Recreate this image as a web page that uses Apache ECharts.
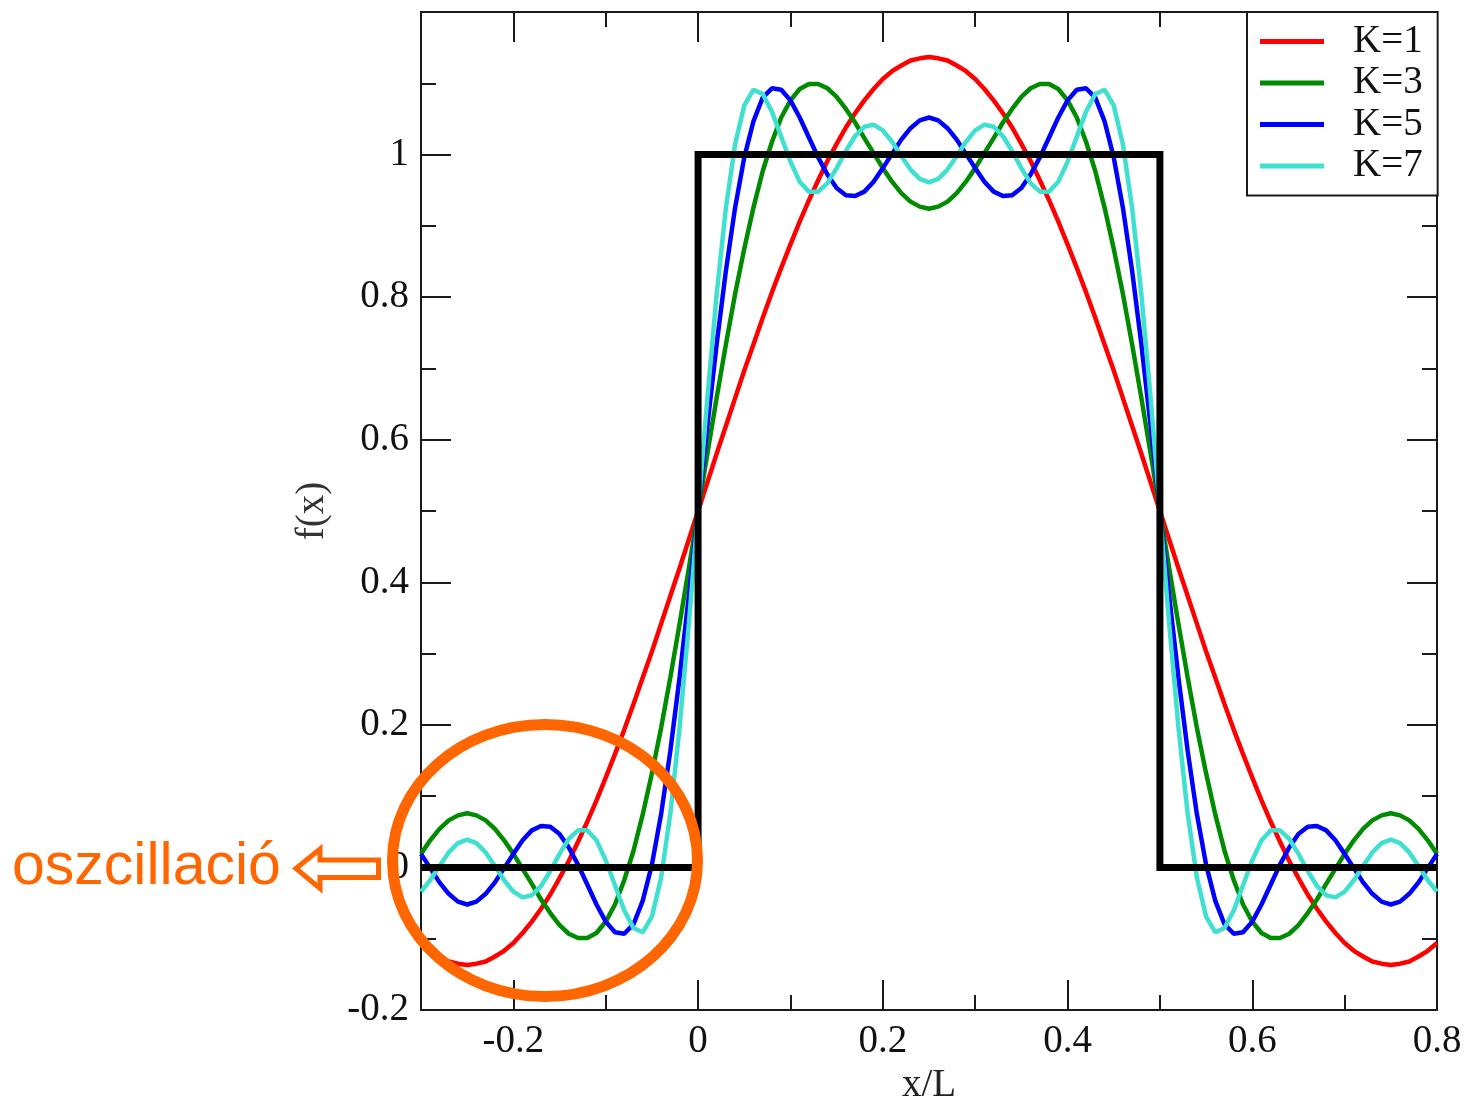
<!DOCTYPE html>
<html>
<head>
<meta charset="utf-8">
<title>f(x) Fourier partial sums</title>
<script src="https://cdn.jsdelivr.net/npm/echarts@6/dist/echarts.min.js"></script>
<style>
  html, body { margin: 0; padding: 0; background: #fff; }
  #chart { width: 1470px; height: 1098px; }
</style>
</head>
<body>
<div id="chart"></div>
<script>
// Sample positions along x/L
const xs = [
  -0.3, -0.29, -0.28, -0.27, -0.26, -0.25, -0.24, -0.23, -0.22, -0.21,
  -0.2, -0.19, -0.18, -0.17, -0.16, -0.15, -0.14, -0.13, -0.12, -0.11,
  -0.1, -0.09, -0.08, -0.07, -0.06, -0.05, -0.04, -0.03, -0.02, -0.01,
  0, 0.01, 0.02, 0.03, 0.04, 0.05, 0.06, 0.07, 0.08, 0.09,
  0.1, 0.11, 0.12, 0.13, 0.14, 0.15, 0.16, 0.17, 0.18, 0.19,
  0.2, 0.21, 0.22, 0.23, 0.24, 0.25, 0.26, 0.27, 0.28, 0.29,
  0.3, 0.31, 0.32, 0.33, 0.34, 0.35, 0.36, 0.37, 0.38, 0.39,
  0.4, 0.41, 0.42, 0.43, 0.44, 0.45, 0.46, 0.47, 0.48, 0.49,
  0.5, 0.51, 0.52, 0.53, 0.54, 0.55, 0.56, 0.57, 0.58, 0.59,
  0.6, 0.61, 0.62, 0.63, 0.64, 0.65, 0.66, 0.67, 0.68, 0.69,
  0.7, 0.71, 0.72, 0.73, 0.74, 0.75, 0.76, 0.77, 0.78, 0.79,
  0.8
];

// Partial sums, K = 1
const yK1 = [
  -0.106, -0.117, -0.125, -0.132, -0.135, -0.137, -0.135, -0.132, -0.125, -0.117,
  -0.106, -0.092, -0.076, -0.058, -0.038, -0.015, 0.009, 0.036, 0.064, 0.094,
  0.126, 0.159, 0.193, 0.229, 0.266, 0.303, 0.342, 0.381, 0.420, 0.460,
  0.500, 0.540, 0.580, 0.619, 0.658, 0.697, 0.734, 0.771, 0.807, 0.841,
  0.874, 0.906, 0.936, 0.964, 0.991, 1.015, 1.038, 1.058, 1.076, 1.092,
  1.106, 1.117, 1.125, 1.132, 1.135, 1.137, 1.135, 1.132, 1.125, 1.117,
  1.106, 1.092, 1.076, 1.058, 1.038, 1.015, 0.991, 0.964, 0.936, 0.906,
  0.874, 0.841, 0.807, 0.771, 0.734, 0.697, 0.658, 0.619, 0.580, 0.540,
  0.500, 0.460, 0.420, 0.381, 0.342, 0.303, 0.266, 0.229, 0.193, 0.159,
  0.126, 0.094, 0.064, 0.036, 0.009, -0.015, -0.038, -0.058, -0.076, -0.092,
  -0.106, -0.117, -0.125, -0.132, -0.135, -0.137, -0.135, -0.132, -0.125, -0.117,
  -0.106
];

// Partial sums, K = 3
const yK3 = [
  0.019, 0.038, 0.054, 0.066, 0.073, 0.076, 0.073, 0.066, 0.054, 0.038,
  0.019, -0.002, -0.023, -0.045, -0.064, -0.081, -0.093, -0.099, -0.099, -0.092,
  -0.076, -0.052, -0.018, 0.023, 0.074, 0.132, 0.196, 0.267, 0.342, 0.420,
  0.500, 0.580, 0.658, 0.733, 0.804, 0.868, 0.926, 0.977, 1.018, 1.052,
  1.076, 1.092, 1.099, 1.099, 1.093, 1.081, 1.064, 1.045, 1.023, 1.002,
  0.981, 0.962, 0.946, 0.934, 0.927, 0.924, 0.927, 0.934, 0.946, 0.962,
  0.981, 1.002, 1.023, 1.045, 1.064, 1.081, 1.093, 1.099, 1.099, 1.092,
  1.076, 1.052, 1.018, 0.977, 0.926, 0.868, 0.804, 0.733, 0.658, 0.580,
  0.500, 0.420, 0.342, 0.267, 0.196, 0.132, 0.074, 0.023, -0.018, -0.052,
  -0.076, -0.092, -0.099, -0.099, -0.093, -0.081, -0.064, -0.045, -0.023, -0.002,
  0.019, 0.038, 0.054, 0.066, 0.073, 0.076, 0.073, 0.066, 0.054, 0.038,
  0.019
];

// Partial sums, K = 5
const yK5 = [
  0.019, -0.001, -0.021, -0.037, -0.048, -0.052, -0.048, -0.037, -0.021, -0.001,
  0.019, 0.038, 0.052, 0.058, 0.057, 0.047, 0.028, 0.004, -0.024, -0.052,
  -0.076, -0.091, -0.093, -0.080, -0.047, 0.004, 0.075, 0.164, 0.267, 0.381,
  0.500, 0.619, 0.733, 0.836, 0.925, 0.996, 1.047, 1.080, 1.093, 1.091,
  1.076, 1.052, 1.024, 0.996, 0.972, 0.953, 0.943, 0.942, 0.948, 0.962,
  0.981, 1.001, 1.021, 1.037, 1.048, 1.052, 1.048, 1.037, 1.021, 1.001,
  0.981, 0.962, 0.948, 0.942, 0.943, 0.953, 0.972, 0.996, 1.024, 1.052,
  1.076, 1.091, 1.093, 1.080, 1.047, 0.996, 0.925, 0.836, 0.733, 0.619,
  0.500, 0.381, 0.267, 0.164, 0.075, 0.004, -0.047, -0.080, -0.093, -0.091,
  -0.076, -0.052, -0.024, 0.004, 0.028, 0.047, 0.057, 0.058, 0.052, 0.038,
  0.019, -0.001, -0.021, -0.037, -0.048, -0.052, -0.048, -0.037, -0.021, -0.001,
  0.019
];

// Partial sums, K = 7
const yK7 = [
  -0.034, -0.018, 0.002, 0.021, 0.034, 0.039, 0.034, 0.021, 0.002, -0.018,
  -0.034, -0.042, -0.039, -0.026, -0.005, 0.019, 0.040, 0.052, 0.052, 0.038,
  0.010, -0.025, -0.060, -0.085, -0.091, -0.069, -0.014, 0.076, 0.197, 0.342,
  0.500, 0.658, 0.803, 0.924, 1.014, 1.069, 1.091, 1.085, 1.060, 1.025,
  0.990, 0.962, 0.948, 0.948, 0.960, 0.981, 1.005, 1.026, 1.039, 1.042,
  1.034, 1.018, 0.998, 0.979, 0.966, 0.961, 0.966, 0.979, 0.998, 1.018,
  1.034, 1.042, 1.039, 1.026, 1.005, 0.981, 0.960, 0.948, 0.948, 0.962,
  0.990, 1.025, 1.060, 1.085, 1.091, 1.069, 1.014, 0.924, 0.803, 0.658,
  0.500, 0.342, 0.197, 0.076, -0.014, -0.069, -0.091, -0.085, -0.060, -0.025,
  0.010, 0.038, 0.052, 0.052, 0.040, 0.019, -0.005, -0.026, -0.039, -0.042,
  -0.034, -0.018, 0.002, 0.021, 0.034, 0.039, 0.034, 0.021, 0.002, -0.018,
  -0.034
];

// The step function itself
const squareX = [-0.3, 0, 0, 0.5, 0.5, 0.8];
const squareY = [0, 0, 1, 1, 0, 0];

const seriesNames = ['K=1', 'K=3', 'K=5', 'K=7'];
const seriesColors = ['#ff0000', '#008b00', '#0000ff', '#40e0d0'];
const seriesValues = [yK1, yK3, yK5, yK7];

const xMajorTicks = [-0.2, 0, 0.2, 0.4, 0.6, 0.8];
const xMinorTicks = [-0.1, 0.1, 0.3, 0.5, 0.7];

const SERIF = '"Liberation Serif", "Times New Roman", serif';
const INK = '#1a1a1a';
const ORANGE = '#ff6600';

const frameLine = { show: true, onZero: false, lineStyle: { color: INK, width: 2 } };
const tickLine = { color: INK, width: 2 };
const labelText = { fontFamily: SERIF, fontSize: 39, color: '#111' };

function xAxisDef(position, ticks, length, withLine, withLabels) {
  return {
    type: 'value',
    position: position,
    min: -0.3,
    max: 0.8,
    axisLine: withLine ? frameLine : { show: false, onZero: false },
    axisTick: { show: true, inside: true, length: length, customValues: ticks, lineStyle: tickLine },
    axisLabel: withLabels
      ? Object.assign({ show: true, margin: 12, customValues: ticks }, labelText)
      : { show: false },
    splitLine: { show: false },
    minorTick: { show: false }
  };
}

function yAxisDef(position, withLabels) {
  return {
    type: 'value',
    position: position,
    min: -0.2,
    max: 1.2,
    interval: 0.2,
    axisLine: frameLine,
    axisTick: { show: true, inside: true, length: 30, lineStyle: tickLine },
    minorTick: { show: true, splitNumber: 2, length: 15, lineStyle: tickLine },
    axisLabel: withLabels
      ? Object.assign({ show: true, margin: 12, showMaxLabel: false, padding: [5, 0, 0, 0] }, labelText)
      : { show: false },
    splitLine: { show: false },
    minorSplitLine: { show: false }
  };
}

const xAxes = [
  xAxisDef('bottom', xMajorTicks, 30, true, true),
  xAxisDef('bottom', xMinorTicks, 15, false, false),
  xAxisDef('top', xMajorTicks, 30, true, false),
  xAxisDef('top', xMinorTicks, 15, false, false)
];
Object.assign(xAxes[0], {
  name: 'x/L',
  nameLocation: 'middle',
  nameGap: 55,
  nameTextStyle: { fontFamily: SERIF, fontSize: 39, color: '#222' }
});

const yAxes = [yAxisDef('left', true), yAxisDef('right', false)];
Object.assign(yAxes[0], {
  name: 'f(x)',
  nameLocation: 'middle',
  nameRotate: 90,
  nameGap: 89,
  nameTextStyle: { fontFamily: SERIF, fontSize: 39, color: '#333' }
});

const curveSeries = seriesNames.map((name, k) => ({
  name: name,
  type: 'line',
  xAxisIndex: 0,
  yAxisIndex: 0,
  data: xs.map((x, i) => [x, seriesValues[k][i]]),
  showSymbol: false,
  symbol: 'none',
  smooth: false,
  itemStyle: { color: seriesColors[k] },
  lineStyle: { color: seriesColors[k], width: 4.5 },
  emphasis: { disabled: true },
  z: 3 + k
}));

const stepSeries = {
  name: 'f',
  type: 'line',
  xAxisIndex: 0,
  yAxisIndex: 0,
  data: squareX.map((x, i) => [x, squareY[i]]),
  showSymbol: false,
  symbol: 'none',
  lineStyle: { color: '#000', width: 7, join: 'miter', cap: 'butt' },
  emphasis: { disabled: true },
  z: 10
};

const chart = echarts.init(document.getElementById('chart'), null, { renderer: 'canvas' });

chart.setOption({
  animation: false,
  backgroundColor: '#fff',
  grid: { left: 421, right: 33, top: 12, bottom: 88, containLabel: false, outerBoundsMode: 'none' },
  xAxis: xAxes,
  yAxis: yAxes,
  legend: {
    data: seriesNames,
    orient: 'vertical',
    left: 1247,
    top: 12,
    padding: [10, 15, 10, 13],
    itemGap: 2.5,
    itemWidth: 64,
    itemHeight: 5,
    icon: 'rect',
    backgroundColor: '#fff',
    borderColor: INK,
    borderWidth: 2,
    borderRadius: 0,
    selectedMode: false,
    textStyle: { fontFamily: SERIF, fontSize: 39, color: '#111', padding: [0, 0, 0, 24] }
  },
  series: curveSeries.concat([stepSeries]),
  graphic: [
    {
      type: 'ellipse',
      silent: true,
      z: 100,
      shape: { cx: 545, cy: 860.5, rx: 152.5, ry: 136 },
      style: { fill: 'none', stroke: ORANGE, lineWidth: 11 }
    },
    {
      type: 'polygon',
      silent: true,
      z: 100,
      shape: {
        points: [[296, 868.5], [320, 849], [320, 860], [378.5, 860], [378.5, 877.5], [320, 877.5], [320, 888.5]]
      },
      style: { fill: '#fff', stroke: ORANGE, lineWidth: 5, lineJoin: 'miter' }
    },
    {
      type: 'text',
      silent: true,
      z: 100,
      x: 12,
      y: 868,
      style: {
        text: 'oszcillació',
        font: '59px "Liberation Sans", Arial, sans-serif',
        fill: ORANGE,
        align: 'left',
        verticalAlign: 'middle'
      }
    }
  ]
});
</script>
</body>
</html>
